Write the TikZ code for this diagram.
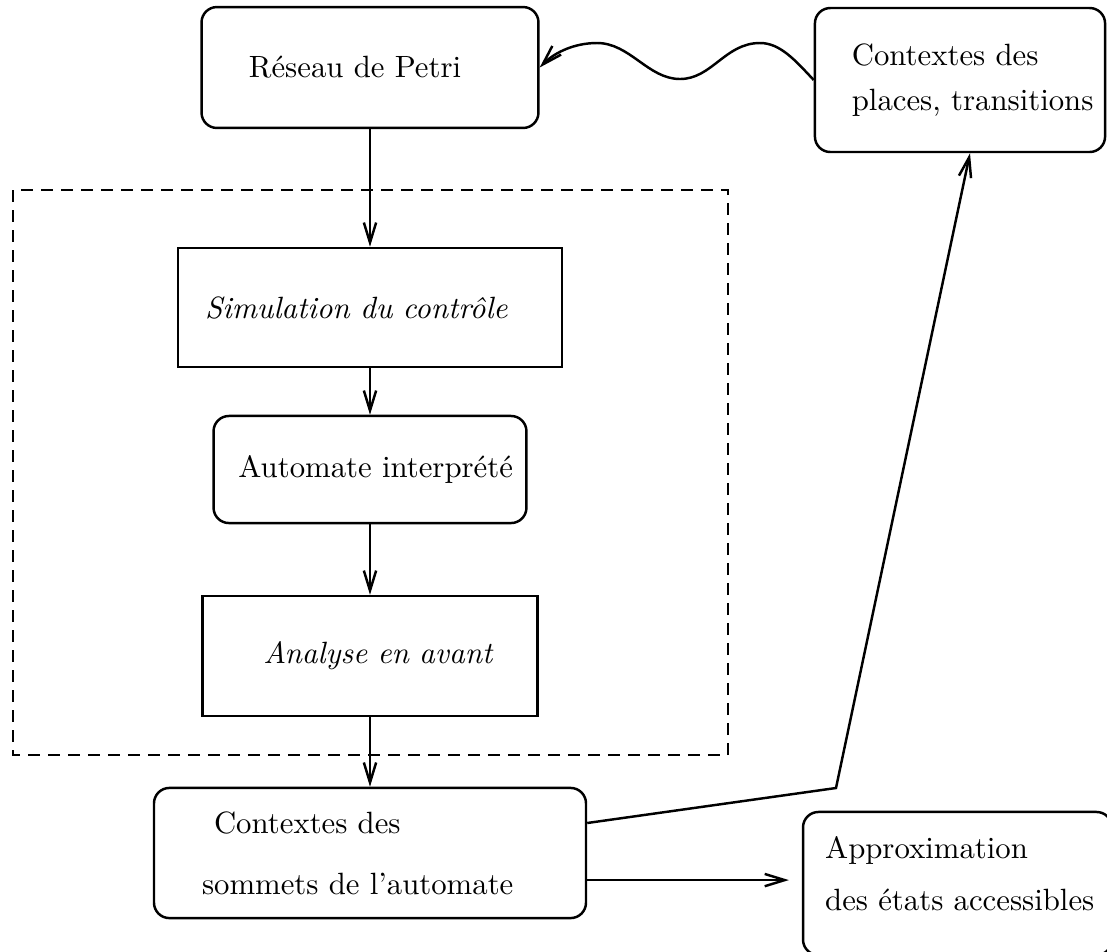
\documentclass[tikz,border=0pt]{standalone}
\usetikzlibrary{arrows.meta}
\tikzset{
  fleche/.style={-{Straight Barb[length=6.5pt,width=4pt]}},
  arrondi/.style={draw, rounded corners=5pt, align=left, inner xsep=0pt, inner ysep=0pt},
  carre/.style={draw, align=left, inner xsep=0pt, inner ysep=0pt},
}
\begin{document}
\begin{tikzpicture}[x=0.325pt, y=-0.325pt, line width=0.8pt]
\useasboundingbox (0,0) rectangle (1107,951);
\draw[dash pattern=on 4pt off 2.5pt] (13,190) rectangle (728,755);
\node[arrondi, text width=109.5pt, minimum height=39.3pt] (petri) at (370,67.5) {\hspace*{15.4pt}R\'eseau de Petri};
\node[arrondi, text width=94.3pt, minimum height=46.8pt] (places) at (960,80) {\hspace*{12pt}Contextes des\\[2.6pt]\hspace*{12pt}places, transitions};
\node[carre, text width=124.8pt, minimum height=38.7pt] (simul) at (370,307.5) {\hspace*{8.8pt}\textit{Simulation du contr\^ole}};
\node[arrondi, text width=101.7pt, minimum height=34.8pt] (automate) at (370,469.5) {\hspace*{8.1pt}Automate interpr\'et\'e};
\node[carre, text width=108.9pt, minimum height=39pt] (analyse) at (370,656) {\hspace*{19.8pt}\textit{Analyse en avant}};
\node[arrondi, text width=140.4pt, minimum height=42.3pt] (sommets) at (370,853) {\hspace*{19.5pt}Contextes des\\[7.8pt]\hspace*{15.6pt}sommets de l'automate};
\node[arrondi, text width=100.4pt, minimum height=46.5pt] (approx) at (957.5,883.5) {\hspace*{7.2pt}Approximation\\[4.9pt]\hspace*{7.2pt}des \'etats accessibles\rule[-6.5pt]{0pt}{0pt}};
\draw[fleche] (petri) to (simul);
\draw[fleche] (simul) to (automate);
\draw[fleche] (automate) to (analyse);
\draw[fleche] (analyse) to (sommets);
\coordinate (coude) at (836,788);
\draw[fleche] ([yshift=9.75pt]sommets.east) -- (coude) -- ([xshift=3.25pt]places.south);
\coordinate (s2) at ([yshift=-8.8pt]sommets.east);
\draw[fleche, shorten >=4.2pt] (s2) -- (s2 -| approx.west);
\draw[fleche] (places.west) .. controls (795,60) and (780,43) .. (760,43)
  .. controls (725,43) and (712,79) .. (680,79)
  .. controls (648,79) and (630,43) .. (597,43)
  .. controls (575,43) and (555,52) .. (petri.east);
\end{tikzpicture}
\end{document}
